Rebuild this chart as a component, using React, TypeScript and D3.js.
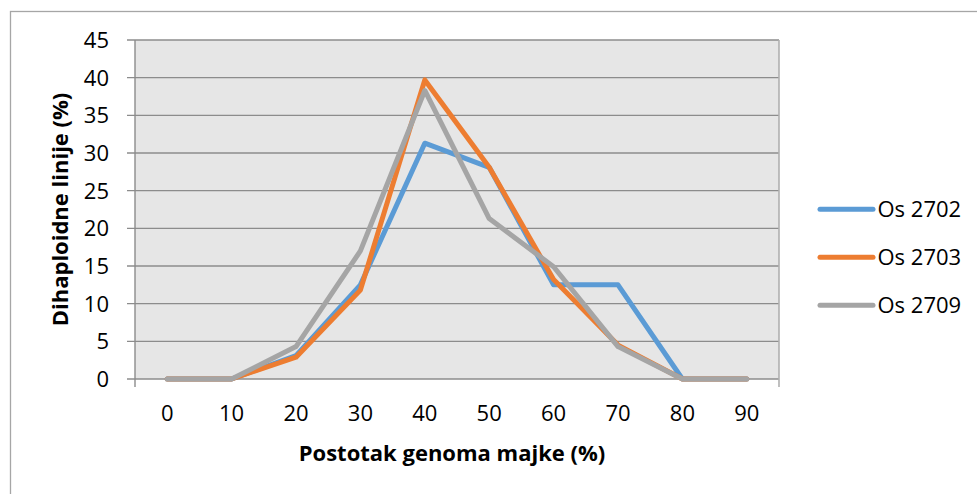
import React from "react";
import * as d3 from "d3";

const categories = ["0", "10", "20", "30", "40", "50", "60", "70", "80", "90"];
const os2702 = [0, 0, 3.1, 12.5, 31.3, 28.1, 12.5, 12.5, 0, 0];
const os2703 = [0, 0, 2.9, 11.8, 39.7, 28.1, 13.2, 4.5, 0, 0];
const os2709 = [0, 0, 4.3, 17.0, 38.3, 21.3, 14.9, 4.3, 0, 0];
const seriesNames = ["Os 2702", "Os 2703", "Os 2709"];
const yTicks = [0, 5, 10, 15, 20, 25, 30, 35, 40, 45];
const xTitle = "Postotak genoma majke (%)";
const yTitle = "Dihaploidne linije (%)";

const colors = ["#5b9bd5", "#ed7d31", "#a5a5a5"];
const FONT = "'Open Sans', sans-serif";

export default function App() {
  const W = 977, H = 494;
  const left = 135, right = 779, top = 40, bottom = 379;
  const x = d3.scaleBand<string>().domain(categories).range([left, right]);
  const y = d3.scaleLinear().domain([0, 45]).range([bottom, top]);
  const line = d3
    .line<number>()
    .x((_, i) => (x(categories[i]) as number) + x.bandwidth() / 2)
    .y((d) => y(d));
  const series = [os2702, os2703, os2709];

  return (
    <svg
      width={W}
      height={H}
      style={{ position: "absolute", left: 0, top: 0 }}
    >
      <rect x={0} y={0} width={W} height={H} fill="#fff" />
      <rect
        x={10.5}
        y={11.5}
        width={1000}
        height={1000}
        fill="none"
        stroke="#a6a6a6"
        strokeWidth={1.3}
      />
      <rect x={left} y={top} width={right - left} height={bottom - top} fill="#e6e6e6" />
      {yTicks.map((t) => (
        <g key={t}>
          <line
            x1={left - 8}
            x2={right}
            y1={y(t)}
            y2={y(t)}
            stroke="#8c8c8c"
            strokeWidth={1.4}
          />
          <text
            x={109}
            y={y(t)}
            dy="0.36em"
            textAnchor="end"
            fontFamily={FONT}
            fontSize={22}
            fill="#000"
          >
            {t}
          </text>
        </g>
      ))}
      <line x1={left} x2={left} y1={top} y2={387} stroke="#8c8c8c" strokeWidth={1.4} />
      <line x1={right} x2={right} y1={top} y2={387} stroke="#b0b0b0" strokeWidth={1.6} />
      {categories.map((c) => (
        <text
          key={c}
          x={(x(c) as number) + x.bandwidth() / 2}
          y={421}
          textAnchor="middle"
          fontFamily={FONT}
          fontSize={22}
          fill="#000"
        >
          {c}
        </text>
      ))}
      {series.map((s, i) => (
        <path
          key={i}
          d={line(s) as string}
          fill="none"
          stroke={colors[i]}
          strokeWidth={5}
          strokeLinejoin="round"
          strokeLinecap="round"
        />
      ))}
      <text
        x={452}
        y={461}
        textAnchor="middle"
        fontFamily={FONT}
        fontSize={22}
        fontWeight="bold"
        fill="#000"
      >
        {xTitle}
      </text>
      <text
        transform={`translate(67.5, ${(top + bottom) / 2}) rotate(-90)`}
        textAnchor="middle"
        fontFamily={FONT}
        fontSize={22}
        fontWeight="bold"
        fill="#000"
      >
        {yTitle}
      </text>
      {seriesNames.map((n, i) => {
        const ly = 209.3 + i * 48;
        return (
          <g key={n}>
            <line
              x1={820}
              x2={873}
              y1={ly}
              y2={ly}
              stroke={colors[i]}
              strokeWidth={5}
              strokeLinecap="round"
            />
            <text
              x={877.5}
              y={ly}
              dy="0.36em"
              fontFamily={FONT}
              fontSize={22}
              fill="#000"
            >
              {n}
            </text>
          </g>
        );
      })}
    </svg>
  );
}
